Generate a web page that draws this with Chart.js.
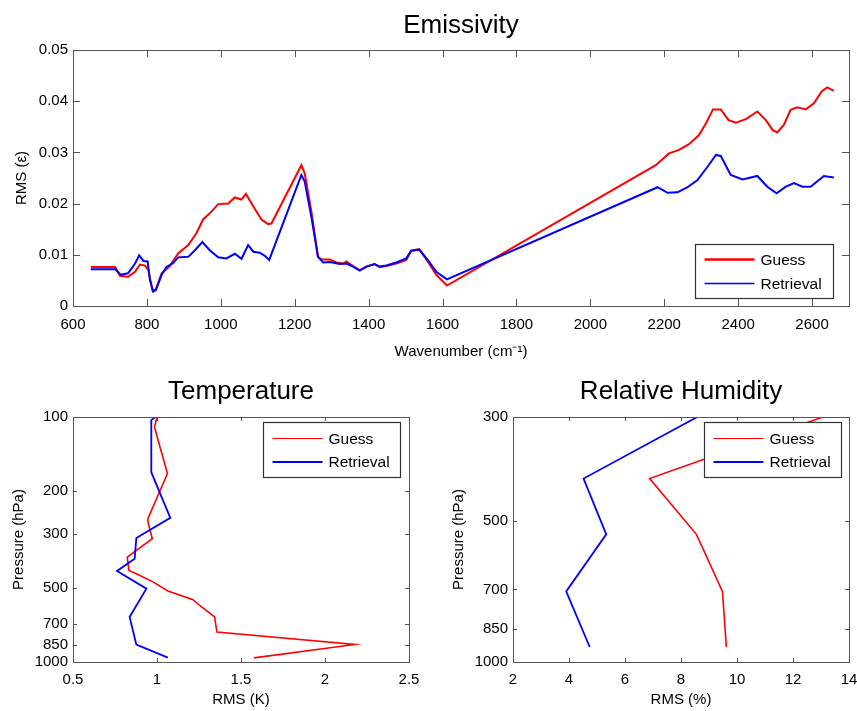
<!DOCTYPE html>
<html>
<head>
<meta charset="utf-8">
<title>Emissivity / Temperature / Relative Humidity RMS</title>
<script src="https://cdn.jsdelivr.net/npm/chart.js@4.4.1/dist/chart.umd.min.js"></script>
<style>
  html, body { margin: 0; padding: 0; background: #fff; }
  #page { position: relative; width: 857px; height: 711px; overflow: hidden; }
  canvas { position: absolute; }
</style>
</head>
<body>
<div id="page">
  <canvas id="emis" width="857" height="370" style="left:0;top:0"></canvas>
  <canvas id="temp" width="430" height="341" style="left:0;top:370px"></canvas>
  <canvas id="rh" width="430" height="341" style="left:430px;top:370px"></canvas>
</div>
<script>
// ─── Emissivity: RMS vs wavenumber (cm-1) ───
const EMIS_WN_GUESS = [648, 714, 727, 749, 768, 781, 795, 804, 815, 824, 840, 862, 885, 912, 934, 952, 970, 993, 1020, 1038,
  1056, 1068, 1086, 1110, 1128, 1137, 1218, 1227, 1245, 1263, 1272, 1295, 1313, 1331, 1340, 1358, 1376, 1394, 1416, 1430,
  1448, 1475, 1502, 1515, 1537, 1560, 1583, 1612, 2177, 2213, 2240, 2267, 2294, 2313, 2332, 2353, 2374, 2394, 2421, 2452,
  2475, 2493, 2506, 2524, 2542, 2560, 2583, 2605, 2626, 2641, 2659];
const EMIS_GUESS = [0.0076, 0.0076, 0.0059, 0.0057, 0.0067, 0.0081, 0.0079, 0.0070, 0.0031, 0.0032, 0.0064, 0.0078, 0.0103, 0.0119, 0.0142, 0.0169, 0.0181, 0.0199, 0.0200, 0.0212,
  0.0208, 0.0219, 0.0197, 0.0169, 0.0160, 0.0161, 0.0275, 0.0259, 0.0185, 0.0096, 0.0091, 0.0091, 0.0085, 0.0083, 0.0087, 0.0078, 0.0070, 0.0077, 0.0082, 0.0076,
  0.0078, 0.0083, 0.0090, 0.0108, 0.0111, 0.0087, 0.0061, 0.0040, 0.0275, 0.0298, 0.0305, 0.0316, 0.0334, 0.0357, 0.0384, 0.0384, 0.0363, 0.0358, 0.0365, 0.0380,
  0.0363, 0.0344, 0.0339, 0.0354, 0.0383, 0.0388, 0.0384, 0.0396, 0.0419, 0.0427, 0.0420];

const EMIS_WN_RETR = [648, 714, 729, 749, 768, 779, 791, 802, 808, 817, 824, 840, 853, 871, 885, 912, 930, 950, 970, 993,
  1015, 1038, 1056, 1065, 1074, 1088, 1105, 1119, 1131, 1218, 1227, 1245, 1263, 1277, 1295, 1322, 1340, 1358, 1376, 1394,
  1416, 1430, 1448, 1475, 1502, 1515, 1537, 1560, 1583, 1612, 2182, 2209, 2236, 2263, 2290, 2317, 2340, 2353, 2380, 2412,
  2452, 2479, 2504, 2529, 2551, 2574, 2596, 2632, 2659];
const EMIS_RETR = [0.0072, 0.0072, 0.0061, 0.0064, 0.0083, 0.0099, 0.0088, 0.0087, 0.0051, 0.0028, 0.0031, 0.0061, 0.0076, 0.0084, 0.0095, 0.0096, 0.0109, 0.0125, 0.0109, 0.0095,
  0.0093, 0.0102, 0.0092, 0.0106, 0.0119, 0.0106, 0.0104, 0.0098, 0.0090, 0.0256, 0.0243, 0.0174, 0.0096, 0.0085, 0.0086, 0.0082, 0.0083, 0.0077, 0.0069, 0.0077,
  0.0082, 0.0077, 0.0079, 0.0085, 0.0093, 0.0108, 0.0110, 0.0090, 0.0067, 0.0052, 0.0232, 0.0221, 0.0222, 0.0232, 0.0246, 0.0272, 0.0295, 0.0293, 0.0256, 0.0247,
  0.0254, 0.0233, 0.0220, 0.0233, 0.0240, 0.0233, 0.0233, 0.0254, 0.0251];

const EMIS_XTICKS = [600, 800, 1000, 1200, 1400, 1600, 1800, 2000, 2200, 2400, 2600];
const EMIS_YTICKS = [0, 0.01, 0.02, 0.03, 0.04, 0.05];

// ─── Temperature: RMS (K) vs pressure (hPa) ───
const TEMP_P_GUESS = [100, 110, 170, 260, 268, 314, 373, 423, 436, 471, 513, 557, 588, 655, 698, 755, 848, 962];
const TEMP_GUESS   = [1.00, 0.985, 1.062, 0.946, 0.946, 0.972, 0.823, 0.833, 0.877, 0.976, 1.065, 1.214, 1.254, 1.343, 1.349, 1.357, 2.177, 1.577];
const TEMP_P_RETR  = [100, 103, 168, 258, 312, 379, 425, 502, 655, 850, 960];
const TEMP_RETR    = [0.99, 0.966, 0.966, 1.079, 0.877, 0.867, 0.762, 0.937, 0.837, 0.877, 1.065];
const TEMP_XTICKS  = [0.5, 1, 1.5, 2, 2.5];
const TEMP_PTICKS  = [100, 200, 300, 500, 700, 850, 1000];

// ─── Relative humidity: RMS (%) vs pressure (hPa) ───
const RH_P      = [300, 406, 534, 707, 929];
const RH_GUESS  = [13.07, 6.88, 8.55, 9.48, 9.62];
const RH_RETR   = [8.58, 4.52, 5.33, 3.90, 4.74];
const RH_XTICKS = [2, 4, 6, 8, 10, 12, 14];
const RH_PTICKS = [300, 500, 700, 850, 1000];

const FONT = "'Liberation Sans', Arial, Helvetica, sans-serif";
Chart.defaults.font.family = FONT;
Chart.defaults.font.size = 15;
Chart.defaults.color = '#000';

const RED = '#ff0000';
const BLUE = '#0000ff';

const pairs = (xs, ys) => xs.map((x, i) => ({ x, y: ys[i] }));

// ─── Plugins: Matlab-style framed axes, title above the plot area, boxed legend ───
const frameBox = {
  id: 'frameBox',
  afterDatasetsDraw(chart, args, o) {
    const { ctx, chartArea: a } = chart;
    const xs = chart.scales.x, ys = chart.scales.y;
    const len = o.tickLen || 5;
    ctx.save();
    ctx.strokeStyle = '#555';
    ctx.lineWidth = 1;
    ctx.beginPath();
    xs.ticks.forEach(t => {
      const px = Math.round(xs.getPixelForValue(t.value)) + 0.5;
      if (px <= a.left + 1 || px >= a.right - 1) return;
      ctx.moveTo(px, a.bottom); ctx.lineTo(px, a.bottom - len);
      ctx.moveTo(px, a.top); ctx.lineTo(px, a.top + len);
    });
    ys.ticks.forEach(t => {
      const py = Math.round(ys.getPixelForValue(t.value)) + 0.5;
      if (py <= a.top + 1 || py >= a.bottom - 1) return;
      ctx.moveTo(a.left, py); ctx.lineTo(a.left + len, py);
      ctx.moveTo(a.right, py); ctx.lineTo(a.right - len, py);
    });
    ctx.stroke();
    ctx.strokeRect(Math.round(a.left) + 0.5, Math.round(a.top) + 0.5,
      Math.round(a.right - a.left), Math.round(a.bottom - a.top));
    ctx.restore();
  }
};

const areaTitle = {
  id: 'areaTitle',
  afterDraw(chart, args, o) {
    if (!o.text) return;
    const { ctx, chartArea: a } = chart;
    ctx.save();
    ctx.font = `${o.size}px ${FONT}`;
    ctx.fillStyle = '#000';
    ctx.textAlign = 'center';
    ctx.textBaseline = 'alphabetic';
    ctx.fillText(o.text, (a.left + a.right) / 2, a.top - o.gap);
    ctx.restore();
  }
};

const boxLegend = {
  id: 'boxLegend',
  afterDraw(chart, args, o) {
    if (!o.width) return;
    const { ctx, chartArea: a } = chart;
    const bx = Math.round(a.right - o.right - o.width) + 0.5;
    const by = Math.round(o.top != null ? a.top + o.top : a.bottom - o.bottom - o.height) + 0.5;
    ctx.save();
    ctx.fillStyle = '#fff';
    ctx.fillRect(bx, by, o.width, o.height);
    ctx.strokeStyle = '#333';
    ctx.lineWidth = 1.2;
    ctx.strokeRect(bx, by, o.width, o.height);
    ctx.font = `${o.size}px ${FONT}`;
    ctx.textBaseline = 'middle';
    ctx.textAlign = 'left';
    chart.data.datasets.forEach((ds, i) => {
      const ry = by + o.rows[i];
      ctx.strokeStyle = ds.borderColor;
      ctx.lineWidth = o.widths ? o.widths[i] : ds.borderWidth;
      ctx.beginPath();
      ctx.moveTo(bx + 9, ry); ctx.lineTo(bx + 59, ry);
      ctx.stroke();
      ctx.fillStyle = '#000';
      ctx.fillText(ds.label, bx + 65, ry + 1);
    });
    ctx.restore();
  }
};

function lineSet(label, data, color, width, order) {
  return {
    label, data, order,
    borderColor: color, backgroundColor: color,
    borderWidth: width, pointRadius: 0, showLine: true, fill: false, tension: 0,
  };
}

// geom: plot-area left/top/right padding and x-axis band height, in canvas px
function makeChart(id, cfg) {
  const g = cfg.geom;
  const yTick = cfg.yFmt || (v => String(v));
  return new Chart(document.getElementById(id), {
    type: 'scatter',
    data: { datasets: cfg.datasets },
    options: {
      responsive: false,
      animation: false,
      layout: { padding: { top: g.top, right: g.right, bottom: 0, left: 0 } },
      plugins: {
        legend: { display: false },
        tooltip: { enabled: false },
        areaTitle: { text: cfg.title, size: 26, gap: g.titleGap },
        frameBox: { tickLen: g.tickLen },
        boxLegend: cfg.legend,
      },
      scales: {
        x: {
          type: 'linear', min: cfg.xMin, max: cfg.xMax,
          grid: { display: false, drawTicks: false },
          border: { display: false },
          ticks: { padding: g.xPad, autoSkip: false, maxRotation: 0, callback: v => String(v) },
          afterBuildTicks: s => { s.ticks = cfg.xTicks.map(value => ({ value })); },
          afterFit: s => { s.height = g.xHeight; s.paddingLeft = 0; s.paddingRight = 0; },
          title: { display: true, text: cfg.xTitle, font: { size: 15 }, padding: { top: 0, bottom: g.xTitlePad } },
        },
        y: {
          type: cfg.yType, min: cfg.yMin, max: cfg.yMax, reverse: !!cfg.yReverse,
          grid: { display: false, drawTicks: false },
          border: { display: false },
          ticks: { padding: 5, autoSkip: false, callback: yTick },
          afterBuildTicks: s => { s.ticks = cfg.yTicks.map(value => ({ value })); },
          afterFit: s => { s.width = g.left; s.paddingTop = 0; s.paddingBottom = 0; },
          title: { display: true, text: cfg.yTitle, font: { size: 15 }, padding: { top: g.yTitlePad, bottom: 0 } },
        },
      },
    },
    plugins: [frameBox, areaTitle, boxLegend],
  });
}

makeChart('emis', {
  title: 'Emissivity',
  geom: { left: 73, top: 50, right: 8, xHeight: 64, titleGap: 17, tickLen: 7, xPad: 10, xTitlePad: 9, yTitlePad: 13 },
  datasets: [
    lineSet('Guess', pairs(EMIS_WN_GUESS, EMIS_GUESS), RED, 2, 1),
    lineSet('Retrieval', pairs(EMIS_WN_RETR, EMIS_RETR), BLUE, 2, 0),
  ],
  xMin: 600, xMax: 2700, xTicks: EMIS_XTICKS, xTitle: 'Wavenumber (cm\u207B\u00B9)',
  yType: 'linear', yMin: 0, yMax: 0.05, yTicks: EMIS_YTICKS, yTitle: 'RMS (\u03B5)',
  legend: { width: 138, height: 54, right: 16, bottom: 8, rows: [15, 39], size: 15.5, widths: [2.5, 1.5] },
});

makeChart('temp', {
  title: 'Temperature',
  geom: { left: 73, top: 47, right: 21, xHeight: 49, titleGap: 18, tickLen: 4, xPad: 9, xTitlePad: 2, yTitlePad: 10 },
  datasets: [
    lineSet('Guess', pairs(TEMP_GUESS, TEMP_P_GUESS), RED, 1.6, 1),
    lineSet('Retrieval', pairs(TEMP_RETR, TEMP_P_RETR), BLUE, 1.8, 0),
  ],
  xMin: 0.5, xMax: 2.5, xTicks: TEMP_XTICKS, xTitle: 'RMS (K)',
  yType: 'logarithmic', yMin: 100, yMax: 1000, yReverse: true, yTicks: TEMP_PTICKS, yTitle: 'Pressure (hPa)',
  legend: { width: 137, height: 55, right: 9, top: 5, rows: [16, 39.5], size: 15.5, widths: [1.2, 2.2] },
});

makeChart('rh', {
  title: 'Relative Humidity',
  geom: { left: 83, top: 47, right: 11, xHeight: 49, titleGap: 18, tickLen: 4, xPad: 9, xTitlePad: 2, yTitlePad: 20 },
  datasets: [
    lineSet('Guess', pairs(RH_GUESS, RH_P), RED, 1.6, 1),
    lineSet('Retrieval', pairs(RH_RETR, RH_P), BLUE, 1.8, 0),
  ],
  xMin: 2, xMax: 14, xTicks: RH_XTICKS, xTitle: 'RMS (%)',
  yType: 'logarithmic', yMin: 300, yMax: 1000, yReverse: true, yTicks: RH_PTICKS, yTitle: 'Pressure (hPa)',
  legend: { width: 137, height: 55, right: 8, top: 5, rows: [16, 39.5], size: 15.5, widths: [1.2, 2.2] },
});
</script>
</body>
</html>
